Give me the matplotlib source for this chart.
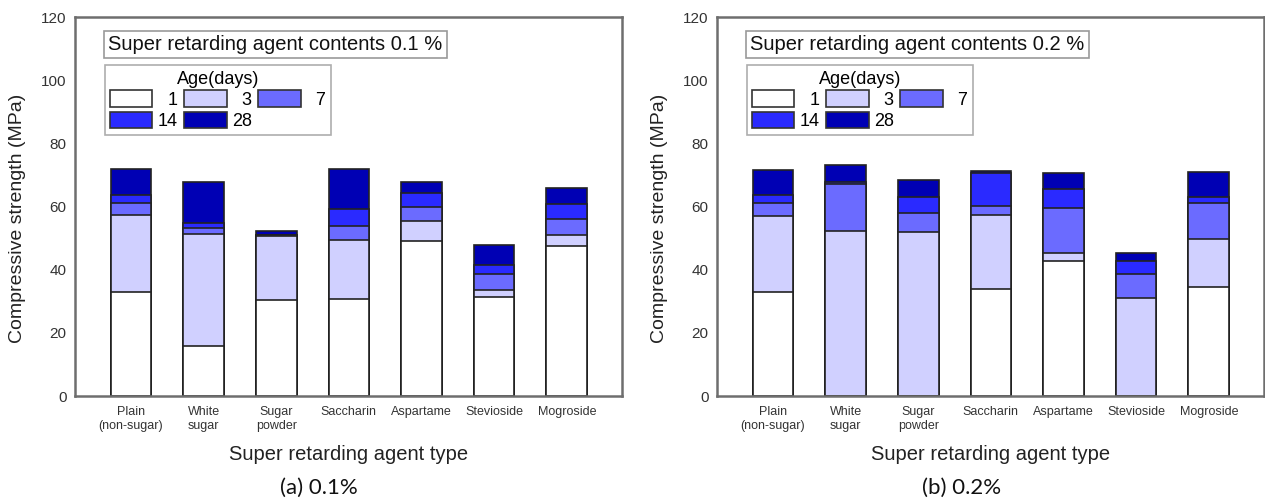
import numpy as np
import matplotlib.pyplot as plt
from matplotlib.patches import Patch

plt.rcParams['font.family'] = ['Liberation Sans', 'DejaVu Sans']

agents = ["Plain\n(non-sugar)", "White\nsugar", "Sugar\npowder", "Saccharin",
          "Aspartame", "Stevioside", "Mogroside"]
ages = ["1", "3", "7", "14", "28"]
colors = ["#FFFFFF", "#D0D0FF", "#6B6BFF", "#2A2AFF", "#0000B4"]

# compressive strength (MPa) at each age, 0.1 % retarder
d1_01 = [33.0, 15.8, 30.4, 30.7, 49.0, 31.4, 47.5]
d3_01 = [57.2, 51.4, 50.7, 49.5, 55.3, 33.7, 51.1]
d7_01 = [61.2, 53.3, 50.9, 53.8, 59.8, 38.7, 56.1]
d14_01 = [63.8, 54.9, 51.1, 59.1, 64.4, 41.5, 60.9]
d28_01 = [72.0, 67.8, 52.3, 71.8, 67.8, 47.7, 66.0]

# 0.2 % retarder (no 1-day strength for some mixes)
d1_02 = [32.8, 0.0, 0.0, 33.8, 42.9, 0.0, 34.6]
d3_02 = [56.9, 52.1, 51.8, 57.4, 45.4, 31.1, 49.6]
d7_02 = [61.0, 67.2, 57.9, 60.1, 59.6, 38.6, 61.0]
d14_02 = [63.6, 67.8, 63.1, 70.7, 65.4, 42.7, 63.0]
d28_02 = [71.7, 73.1, 68.5, 71.4, 70.7, 45.4, 70.9]

fig = plt.figure(figsize=(12.65, 5.03), dpi=100)
ax1 = fig.add_axes([0.0593, 0.2127, 0.4324, 0.7535])
ax2 = fig.add_axes([0.5668, 0.2127, 0.4324, 0.7535])


def draw(ax, series, note):
    x = np.arange(len(agents))
    # tallest (28 d) first, earlier ages drawn over it
    for vals, col in reversed(list(zip(series, colors))):
        ax.bar(x, vals, width=0.56, color=col, edgecolor="#222222",
               linewidth=1.2, zorder=2)
    ax.set_xlim(-0.77, 6.76)
    ax.set_ylim(0, 120)
    ax.set_yticks(np.arange(0, 121, 20))
    ax.set_xticks(x)
    ax.set_xticklabels(agents, fontsize=9, color="#333333", linespacing=1.3)
    ax.tick_params(axis="x", length=0, pad=7)
    ax.tick_params(axis="y", labelsize=11, colors="#333333", length=0,
                   pad=6)
    for s in ax.spines.values():
        s.set_color("#6e6e6e")
        s.set_linewidth(1.8)
    ax.set_ylabel("Compressive strength (MPa)", fontsize=14, color="#222222")
    ax.yaxis.set_label_coords(-0.09, 0.47)
    ax.set_xlabel("Super retarding agent type", fontsize=14.5,
                  color="#222222", labelpad=9)
    ax.text(0.061, 0.927, note, transform=ax.transAxes, fontsize=14.5,
            va="center", ha="left", color="#111111",
            bbox=dict(boxstyle="square,pad=0.2", fc="white", ec="#999999",
                      lw=1.2))
    # legend is filled column by column: reorder so rows read 1 3 7 / 14 28
    order = [0, 3, 1, 4, 2]
    handles = [Patch(facecolor=colors[i], edgecolor="#333333", linewidth=1.2)
               for i in order]
    labels = [ages[i].rjust(2, "\u2007") for i in order]
    leg = ax.legend(handles, labels, title="Age(days)", ncol=3,
                    loc="upper left", bbox_to_anchor=(0.054, 0.873),
                    fontsize=13, title_fontsize=13, frameon=True,
                    fancybox=False, edgecolor="#999999", handlelength=2.35,
                    handleheight=1.05, handletextpad=0.3, columnspacing=0.35,
                    labelspacing=0.15, borderpad=0.3, borderaxespad=0)
    leg.get_frame().set_linewidth(1.2)


draw(ax1, [d1_01, d3_01, d7_01, d14_01, d28_01],
     "Super retarding agent contents 0.1 %")
draw(ax2, [d1_02, d3_02, d7_02, d14_02, d28_02],
     "Super retarding agent contents 0.2 %")

fig.text(0.252, 0.031, "(a) 0.1%", fontsize=16, ha="center", va="center",
         family="Lato", color="#111111")
fig.text(0.760, 0.031, "(b) 0.2%", fontsize=16, ha="center", va="center",
         family="Lato", color="#111111")

fig.savefig("out.png", dpi=100)
